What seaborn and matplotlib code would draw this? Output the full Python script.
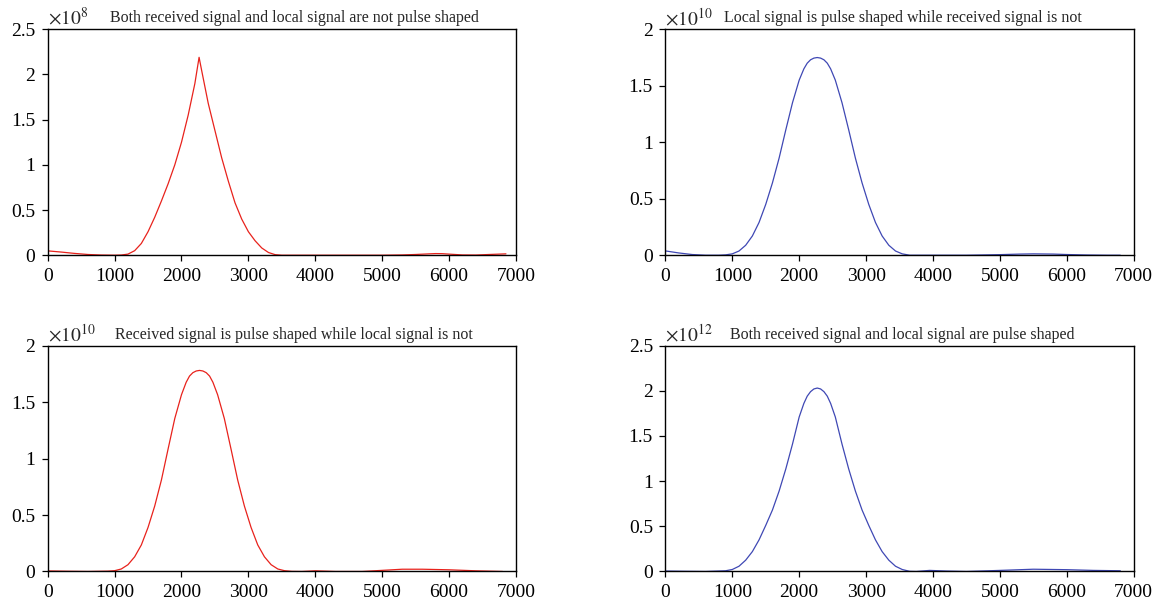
import numpy as np
import pandas as pd
import matplotlib
matplotlib.use("Agg")
import matplotlib.pyplot as plt
import seaborn as sns
from matplotlib.ticker import FuncFormatter, MultipleLocator

# ---- data ----
x1 = [0, 200, 400, 600, 800, 1000, 1100, 1200, 1300, 1400, 1500, 1600, 1700, 1800, 1900,
      2000, 2100, 2200, 2263, 2300, 2400, 2500, 2600, 2700, 2800, 2900, 3000, 3100, 3200,
      3300, 3400, 3500, 3700, 4000, 4500, 5000, 5300, 5500, 5700, 5800, 5900, 6000, 6200,
      6400, 6600, 6850]
y1 = [0.048, 0.035, 0.02, 0.008, 0.002, 0.0, 0.002, 0.012, 0.05, 0.13, 0.26, 0.42, 0.6,
      0.79, 1.0, 1.25, 1.55, 1.9, 2.19, 2.05, 1.68, 1.38, 1.08, 0.82, 0.58, 0.4, 0.26, 0.16,
      0.08, 0.03, 0.006, 0.0, 0.0, 0.0, 0.0, 0.0, 0.003, 0.008, 0.015, 0.018, 0.017, 0.012,
      0.003, 0.002, 0.008, 0.015]  # x1e8

x2 = [0, 200, 400, 600, 800, 900, 1000, 1100, 1200, 1300, 1400, 1500, 1600, 1700, 1800,
      1900, 2000, 2070, 2120, 2170, 2220, 2270, 2320, 2370, 2420, 2470, 2540, 2640, 2740,
      2840, 2940, 3040, 3140, 3240, 3340, 3440, 3540, 3650, 4000, 4500, 5000, 5300, 5500,
      5800, 6000, 6300, 6600, 6800]
y2 = [0.038, 0.02, 0.006, 0.0, 0.0, 0.003, 0.012, 0.037, 0.088, 0.17, 0.29, 0.45, 0.64,
      0.86, 1.11, 1.35, 1.55, 1.65, 1.70, 1.73, 1.745, 1.75, 1.745, 1.73, 1.70, 1.65, 1.55,
      1.35, 1.11, 0.86, 0.64, 0.45, 0.29, 0.17, 0.088, 0.037, 0.012, 0.0, 0.0, 0.0, 0.005,
      0.01, 0.012, 0.01, 0.006, 0.002, 0.0, 0.0]  # x1e10

x3 = [0, 300, 600, 900, 1000, 1100, 1200, 1300, 1400, 1500, 1600, 1700, 1800, 1900, 2000,
      2070, 2120, 2170, 2220, 2270, 2320, 2370, 2420, 2470, 2540, 2640, 2740, 2840, 2940,
      3040, 3140, 3240, 3340, 3440, 3540, 3650, 3800, 4000, 4300, 4700, 5000, 5300, 5600,
      6000, 6400, 6800]
y3 = [0.005, 0.002, 0.0, 0.003, 0.007, 0.022, 0.06, 0.13, 0.235, 0.39, 0.58, 0.81, 1.085,
      1.355, 1.565, 1.675, 1.73, 1.76, 1.775, 1.78, 1.775, 1.76, 1.73, 1.675, 1.565, 1.355,
      1.085, 0.81, 0.58, 0.39, 0.235, 0.13, 0.06, 0.022, 0.007, 0.001, 0.0, 0.006, 0.0, 0.0,
      0.01, 0.02, 0.02, 0.015, 0.006, 0.0]  # x1e10

x4 = [0, 300, 600, 900, 1000, 1100, 1200, 1300, 1400, 1500, 1600, 1700, 1800, 1900, 2000,
      2070, 2120, 2170, 2220, 2270, 2320, 2370, 2420, 2470, 2540, 2640, 2740, 2840, 2940,
      3040, 3140, 3240, 3340, 3440, 3540, 3650, 3750, 3950, 4200, 4500, 5000, 5500, 6000,
      6400, 6800]
y4 = [0.005, 0.002, 0.0, 0.008, 0.022, 0.058, 0.125, 0.22, 0.35, 0.51, 0.68, 0.89, 1.135,
      1.41, 1.71, 1.86, 1.94, 1.99, 2.02, 2.03, 2.02, 1.99, 1.94, 1.86, 1.71, 1.41, 1.135,
      0.89, 0.68, 0.51, 0.35, 0.22, 0.125, 0.058, 0.022, 0.002, 0.0, 0.012, 0.005, 0.0,
      0.012, 0.025, 0.02, 0.012, 0.008]  # x1e12

titles = ["Both received signal and local signal are not pulse shaped",
          "Local signal is pulse shaped while received signal is not",
          "Received signal is pulse shaped while local signal is not",
          "Both received signal and local signal are pulse shaped"]
exponents = [8, 10, 10, 12]
ymaxes = [2.5, 2.0, 2.0, 2.5]
xticks = [0, 1000, 2000, 3000, 4000, 5000, 6000, 7000]

RED = "#e8221c"
BLUE = "#3f48b4"
colors = [RED, BLUE, RED, BLUE]
title_x = [0.526, 0.507, 0.526, 0.505]

sns.set_style("ticks")
plt.rcParams["font.family"] = ["Liberation Serif", "DejaVu Serif"]
plt.rcParams["mathtext.fontset"] = "stix"

fig = plt.figure(figsize=(11.63, 6.09), dpi=100)
fig.subplots_adjust(left=0.041, right=0.9748, top=0.9519, bottom=0.0616,
                    wspace=0.319, hspace=0.40)
axes = fig.subplots(2, 2).ravel()

series = [(x1, y1), (x2, y2), (x3, y3), (x4, y4)]
for ax, (xs, ys), exp, ymax, col, title, tx in zip(axes, series, exponents, ymaxes,
                                                    colors, titles, title_x):
    scale = 10.0 ** exp
    df = pd.DataFrame({"x": xs, "y": np.array(ys) * scale})
    sns.lineplot(data=df, x="x", y="y", ax=ax, color=col, linewidth=0.9)
    ax.set_xlim(0, 7000)
    ax.set_ylim(0, ymax * scale)
    ax.set_xticks(xticks)
    ax.yaxis.set_major_locator(MultipleLocator(0.5 * scale))
    ax.yaxis.set_major_formatter(FuncFormatter(lambda v, p, s=scale: f"{v / s:g}"))
    ax.set_xlabel("")
    ax.set_ylabel("")
    for sp in ax.spines.values():
        sp.set_visible(True)
        sp.set_linewidth(1.0)
        sp.set_color("black")
    ax.tick_params(axis="both", direction="out", length=4, width=0.9, labelsize=14,
                   colors="black", top=False, right=False)
    ax.tick_params(axis="x", pad=5)
    ax.tick_params(axis="y", pad=5)
    ax.set_title(title, fontsize=11.5, pad=5, x=tx)
    ax.text(0.0, 1.003, r"$\times10^{%d}$" % exp, transform=ax.transAxes,
            ha="left", va="bottom", fontsize=14)

fig.savefig("out.png", dpi=100)
